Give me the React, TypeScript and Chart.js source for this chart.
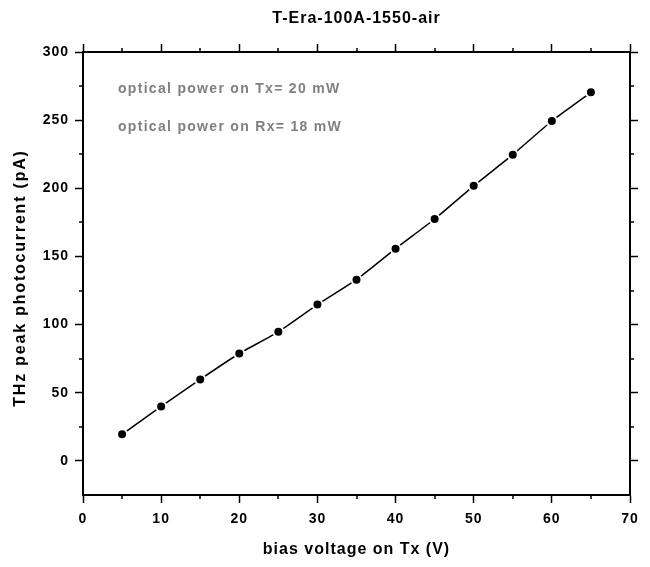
import React, { useEffect, useRef } from "react";
import { Chart, registerables } from "chart.js";

Chart.register(...registerables);

const biasVoltage = [5, 10, 15, 20, 25, 30, 35, 40, 45, 50, 55, 60, 65];
const photocurrent = [19.5, 40, 59.8, 78.8, 94.7, 114.7, 133, 155.7, 177.5, 201.8, 224.7, 249.4, 270.4];
const chartTitle = "T-Era-100A-1550-air";
const xTitle = "bias voltage on Tx (V)";
const yTitle = "THz peak photocurrent (pA)";
const notes = ["optical power on Tx= 20 mW", "optical power on Rx= 18 mW"];
const xMinorTicks = [5, 15, 25, 35, 45, 55, 65];
const yMinorTicks = [25, 75, 125, 175, 225, 275];

const FONT = "'Liberation Sans', Arial, sans-serif";

const decorPlugin = {
  id: "decor",
  beforeDraw(chart: any) {
    (chart.ctx as any).letterSpacing = "1px";
  },
  afterDraw(chart: any) {
    const { ctx, chartArea } = chart;
    const x = chart.scales.x;
    const y = chart.scales.y;
    ctx.save();
    ctx.strokeStyle = "#000";
    ctx.lineWidth = 1.5;
    ctx.beginPath();
    for (const v of xMinorTicks) {
      const px = Math.round(x.getPixelForValue(v));
      ctx.moveTo(px, chartArea.bottom);
      ctx.lineTo(px, chartArea.bottom + 4);
      ctx.moveTo(px, chartArea.top);
      ctx.lineTo(px, chartArea.top - 4);
    }
    for (const v of yMinorTicks) {
      const py = Math.round(y.getPixelForValue(v));
      ctx.moveTo(chartArea.left, py);
      ctx.lineTo(chartArea.left - 4, py);
      ctx.moveTo(chartArea.right, py);
      ctx.lineTo(chartArea.right + 4, py);
    }
    ctx.stroke();

    // title
    ctx.fillStyle = "#000";
    ctx.letterSpacing = "1px";
    ctx.font = `bold 16px ${FONT}`;
    ctx.textAlign = "center";
    ctx.textBaseline = "middle";
    ctx.fillText(chartTitle, (chartArea.left + chartArea.right) / 2, 19);

    // y axis title
    ctx.save();
    ctx.letterSpacing = "1.8px";
    ctx.translate(21, 278);
    ctx.rotate(-Math.PI / 2);
    ctx.fillText(yTitle, 0, 0);
    ctx.restore();

    // notes
    ctx.fillStyle = "#808080";
    ctx.letterSpacing = "1.3px";
    ctx.font = `bold 14px ${FONT}`;
    ctx.textAlign = "left";
    ctx.fillText(notes[0], chartArea.left + 35, 89);
    ctx.fillText(notes[1], chartArea.left + 35, 127);
    ctx.restore();
  },
};

export default function App() {
  const ref = useRef<HTMLCanvasElement>(null);
  useEffect(() => {
    const tickFont = { family: FONT, size: 14, weight: "bold" as const };
    const titleFont = { family: FONT, size: 16, weight: "bold" as const, lineHeight: 1.2 };
    const chart = new Chart(ref.current!, {
      type: "line",
      data: {
        labels: biasVoltage,
        datasets: [
          {
            data: biasVoltage.map((v, i) => ({ x: v, y: photocurrent[i] })),
            borderColor: "#000",
            borderWidth: 1.5,
            pointRadius: 5,
            pointBorderWidth: 2,
            pointBackgroundColor: "#000",
            pointBorderColor: "#fff",
            tension: 0.15,
            fill: false,
          },
        ],
      },
      options: {
        animation: false,
        responsive: false,
        layout: { padding: 0 },
        plugins: { legend: { display: false }, title: { display: false }, tooltip: { enabled: false } },
        scales: {
          x: {
            type: "linear",
            position: "bottom",
            min: 0,
            max: 70,
            ticks: { stepSize: 10, color: "#000", font: tickFont, padding: 8, maxRotation: 0 },
            grid: { drawOnChartArea: false, tickLength: 8, tickWidth: 1.5, color: "#000" },
            border: { display: true, color: "#000", width: 2 },
            title: { display: true, text: xTitle, color: "#000", font: titleFont, padding: { top: 0, bottom: 8 } },
            afterFit: (s: any) => { s.height = 72; },
          },
          x2: {
            type: "linear",
            position: "top",
            min: 0,
            max: 70,
            ticks: { stepSize: 10, display: false },
            grid: { drawOnChartArea: false, tickLength: 8, tickWidth: 1.5, color: "#000" },
            border: { display: true, color: "#000", width: 2 },
            afterFit: (s: any) => { s.height = 52; },
          },
          y: {
            type: "linear",
            position: "left",
            min: -25,
            max: 300,
            ticks: { stepSize: 50, color: "#000", font: tickFont, padding: 6 },
            afterBuildTicks: (s: any) => { s.ticks = s.ticks.filter((t: any) => t.value % 50 === 0); },
            grid: { drawOnChartArea: false, tickLength: 8, tickWidth: 1.5, color: "#000" },
            border: { display: true, color: "#000", width: 2 },
            title: { display: false },
            afterFit: (s: any) => { s.width = 83; },
          },
          y2: {
            type: "linear",
            position: "right",
            min: -25,
            max: 300,
            ticks: { stepSize: 50, display: false },
            afterBuildTicks: (s: any) => { s.ticks = s.ticks.filter((t: any) => t.value % 50 === 0); },
            grid: { drawOnChartArea: false, tickLength: 8, tickWidth: 1.5, color: "#000" },
            border: { display: true, color: "#000", width: 2 },
            afterFit: (s: any) => { s.width = 20; },
          },
        },
      },
      plugins: [decorPlugin],
    });
    return () => chart.destroy();
  }, []);
  return (
    <div style={{ position: "absolute", left: 0, top: 0, width: 650, height: 567, background: "#fff" }}>
      <canvas ref={ref} width={650} height={567} style={{ display: "block" }} />
    </div>
  );
}
